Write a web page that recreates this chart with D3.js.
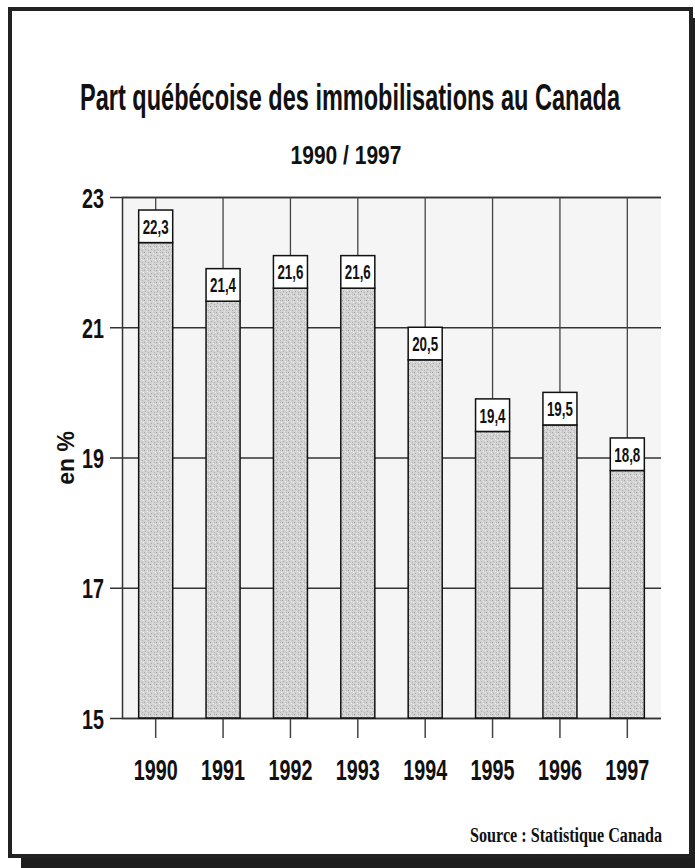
<!DOCTYPE html>
<html>
<head>
<meta charset="utf-8">
<script src="https://cdn.jsdelivr.net/npm/d3@7/dist/d3.min.js"></script>
<style>
  html, body { margin: 0; padding: 0; background: #fff; }
  svg { display: block; }
</style>
</head>
<body>
<script>
// ---- Data ----
const years = ["1990", "1991", "1992", "1993", "1994", "1995", "1996", "1997"];
const shares = [22.3, 21.4, 21.6, 21.6, 20.5, 19.4, 19.5, 18.8];
const valueLabels = ["22,3", "21,4", "21,6", "21,6", "20,5", "19,4", "19,5", "18,8"];
const yTicks = [15, 17, 19, 21, 23];
const titleText = "Part québécoise des immobilisations au Canada";
const subtitleText = "1990 / 1997";
const yAxisTitle = "en %";
const sourceText = "Source : Statistique Canada";

const W = 695, H = 868;
const sans = "'Liberation Sans', Arial, sans-serif";
const serif = "'Liberation Serif', 'Times New Roman', serif";

const svg = d3.select("body").append("svg").attr("width", W).attr("height", H);

// horizontally compress a text element to a target width, around its anchor point
function fit(sel, target) {
  sel.each(function () {
    const t = d3.select(this);
    const w = this.getComputedTextLength();
    if (!w) return;
    const s = target / w;
    const ax = +t.attr("x") || 0, ay = +t.attr("y") || 0;
    const prev = t.attr("transform") || "";
    t.attr("transform", `${prev} translate(${ax},${ay}) scale(${s},1) translate(${-ax},${-ay})`);
  });
}

// stipple pattern for bars
const defs = svg.append("defs");
const pat = defs.append("pattern").attr("id", "stip").attr("patternUnits", "userSpaceOnUse")
  .attr("width", 6).attr("height", 6);
pat.append("rect").attr("width", 6).attr("height", 6).attr("fill", "#d2d2d2");
[[0,0,"#a0a0a0"],[3,1,"#ececec"],[1,3,"#aaaaaa"],[4,4,"#b4b4b4"],[5,2,"#f0f0f0"],[2,5,"#e2e2e2"],[4,0,"#bbbbbb"]].forEach(d => {
  pat.append("rect").attr("x", d[0]).attr("y", d[1]).attr("width", 1).attr("height", 1).attr("fill", d[2]);
});

// frame + shadow
svg.append("rect").attr("x", 21).attr("y", 857).attr("width", W - 21).attr("height", H - 857).attr("fill", "#1e1e1e");
svg.append("rect").attr("x", 691).attr("y", 18).attr("width", 4).attr("height", H - 18).attr("fill", "#1e1e1e");
svg.append("rect").attr("x", 10).attr("y", 9).attr("width", 681).attr("height", 847)
  .attr("fill", "none").attr("stroke", "#222").attr("stroke-width", 4);

// scales
const x = d3.scaleBand().domain(years).range([122, 661]).paddingInner(0.495).paddingOuter(0.2475);
const y = d3.scaleLinear().domain([15, 23]).range([718, 197]);

// plot background
svg.append("rect").attr("x", x.range()[0]).attr("y", y(23))
  .attr("width", x.range()[1] - x.range()[0]).attr("height", y(15) - y(23)).attr("fill", "#f5f5f5");

// y axis (gridlines from ticks)
const yAxis = svg.append("g").attr("transform", `translate(${x.range()[0]},0)`)
  .call(d3.axisLeft(y).tickValues(yTicks).tickSize(-(x.range()[1] - x.range()[0])).tickPadding(18).tickFormat(d3.format("d")));
yAxis.select(".domain").attr("stroke", "#333").attr("stroke-width", 1.5);
yAxis.selectAll(".tick line").attr("stroke", "#333").attr("stroke-width", 1.6).attr("x1", -12);
yAxis.selectAll(".tick text").attr("font-family", sans).attr("font-weight", "bold")
  .attr("font-size", 28).attr("fill", "#111").attr("x", -18).attr("y", 0).attr("dy", "0.36em");
fit(yAxis.selectAll(".tick text"), 22);

// vertical gridlines at category centres from top to label box
svg.append("g").selectAll("line").data(years).join("line")
  .attr("x1", d => x(d) + x.bandwidth() / 2).attr("x2", d => x(d) + x.bandwidth() / 2)
  .attr("y1", y(23)).attr("y2", (d, i) => y(shares[i] + 0.5))
  .attr("stroke", "#444").attr("stroke-width", 1.3);

// x axis (ticks below baseline)
const xAxis = svg.append("g").attr("transform", `translate(0,${y(15)})`)
  .call(d3.axisBottom(x).tickSize(20).tickPadding(22));
xAxis.select(".domain").remove();
xAxis.selectAll(".tick line").attr("stroke", "#444").attr("stroke-width", 1.5);
xAxis.selectAll(".tick text").attr("font-family", sans).attr("font-weight", "bold")
  .attr("font-size", 30).attr("fill", "#111").attr("x", 0).attr("y", 51).attr("dy", "0.36em");
fit(xAxis.selectAll(".tick text"), 44);

// bars
svg.append("g").selectAll("rect").data(shares).join("rect")
  .attr("x", (d, i) => x(years[i])).attr("width", x.bandwidth())
  .attr("y", d => y(d)).attr("height", d => y(15) - y(d))
  .attr("fill", "url(#stip)").attr("stroke", "#111").attr("stroke-width", 1.5);

// value label boxes
svg.append("g").selectAll("rect").data(shares).join("rect")
  .attr("x", (d, i) => x(years[i])).attr("width", x.bandwidth())
  .attr("y", d => y(d + 0.5)).attr("height", d => y(d) - y(d + 0.5))
  .attr("fill", "#fff").attr("stroke", "#111").attr("stroke-width", 1.5);
const vl = svg.append("g").selectAll("text").data(shares).join("text")
  .attr("x", (d, i) => x(years[i]) + x.bandwidth() / 2)
  .attr("y", d => (y(d) + y(d + 0.5)) / 2 + 7.5)
  .attr("text-anchor", "middle").attr("font-family", sans).attr("font-weight", "bold")
  .attr("font-size", 21).attr("fill", "#111")
  .text((d, i) => valueLabels[i]);
fit(vl, 26);

// titles
const tt = svg.append("text").attr("x", 350).attr("y", 110).attr("text-anchor", "middle")
  .attr("font-family", sans).attr("font-weight", "bold").attr("font-size", 37).attr("fill", "#111")
  .text(titleText);
fit(tt, 540);
const st = svg.append("text").attr("x", 346).attr("y", 164).attr("text-anchor", "middle")
  .attr("font-family", sans).attr("font-weight", "bold").attr("font-size", 26).attr("fill", "#111")
  .text(subtitleText);
fit(st, 111);

// y axis title
svg.append("text").attr("transform", "translate(74,458) rotate(-90)").attr("text-anchor", "middle")
  .attr("font-family", sans).attr("font-weight", "bold")
  .attr("font-size", 23).attr("fill", "#111").text(yAxisTitle);

// source
const src = svg.append("text").attr("x", 662).attr("y", 842).attr("text-anchor", "end")
  .attr("font-family", serif).attr("font-weight", "bold")
  .attr("font-size", 21).attr("fill", "#111").text(sourceText);
fit(src, 192);
</script>
</body>
</html>
